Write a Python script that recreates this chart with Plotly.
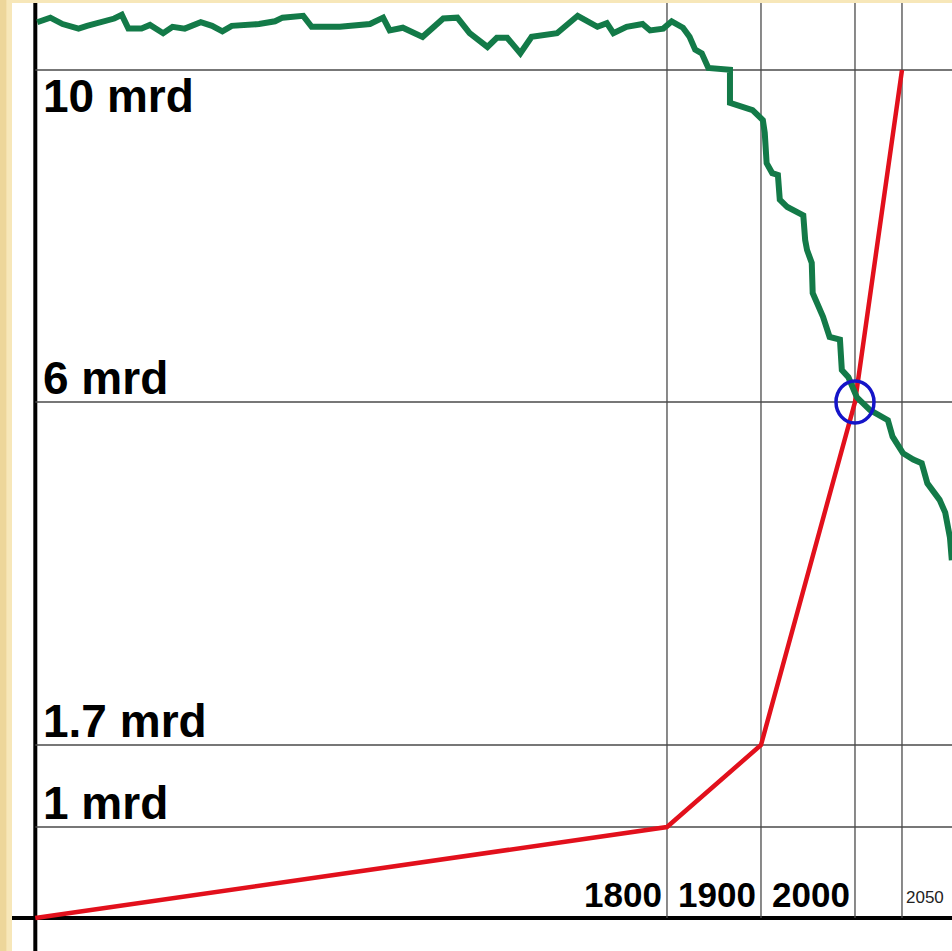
import numpy as np
import plotly.graph_objects as go

# ---------------- data ----------------
# world population (red), in milliards (mrd)
pop_years = [1128, 1800, 1900, 2000, 2050]
pop_values = [0, 1, 1.7, 6, 10]

# green series (unlabelled index, 0 = baseline, 100 = top of the chart)
green_years = [1130, 1144, 1157, 1174, 1183, 1212, 1220, 1227, 1241, 1250,
               1264, 1274, 1287, 1304, 1316, 1327, 1337, 1366, 1383, 1391,
               1413, 1422, 1452, 1463, 1479, 1484, 1498, 1505, 1519, 1540,
               1562, 1577, 1590, 1609, 1619, 1630, 1644, 1656, 1683, 1705,
               1726, 1736, 1743, 1757, 1774, 1782, 1796, 1805, 1817, 1824,
               1830, 1837, 1844, 1867, 1867, 1881, 1891, 1902, 1904, 1906,
               1912, 1918, 1920, 1928, 1945, 1947, 1949, 1954, 1955, 1966,
               1973, 1984, 1986, 1993, 2002, 2016, 2035, 2040, 2051, 2062,
               2071, 2077, 2090, 2096, 2101, 2103]
green_index = [97.9, 98.4, 97.7, 97.2, 97.5, 98.3, 98.7, 97.2, 97.2, 97.6,
               96.7, 97.4, 97.2, 97.9, 97.5, 96.9, 97.5, 97.7, 98.0, 98.4,
               98.6, 97.4, 97.4, 97.5, 97.6, 97.7, 98.4, 97.0, 97.3, 96.3,
               98.3, 98.4, 96.7, 95.2, 96.2, 96.2, 94.5, 96.3, 96.7, 98.6,
               97.4, 97.8, 96.7, 97.4, 97.7, 97.0, 97.2, 98.0, 97.3, 96.3,
               94.9, 94.5, 92.9, 92.7, 89.1, 88.6, 88.3, 87.2, 85.8, 82.5,
               81.4, 81.2, 78.5, 77.7, 76.8, 74.1, 73.0, 71.6, 68.3, 65.7,
               63.5, 63.2, 59.9, 59.1, 56.9, 55.5, 54.4, 52.6, 50.8, 50.1,
               49.7, 47.5, 45.7, 44.3, 41.6, 39.1]

pop_tick_values = [1, 1.7, 6, 10]
pop_tick_labels = ["1 mrd", "1.7 mrd", "6 mrd", "10 mrd"]
year_tick_values = [1800, 1900, 2000, 2050]
year_tick_labels = ["1800", "1900", "2000", "2050"]
highlight_year = 2000
highlight_pop = 6

# ---------------- hand-drawn (piecewise) population scale ----------------
SCALE_POP = [0, 1, 1.7, 6, 10]
SCALE_POS = [0, 91, 173, 516, 848]


def ypos(v):
    return np.interp(v, SCALE_POP, SCALE_POS)


X_RANGE = [1103.2, 2103.2]
Y_RANGE = [-33, 915]
Y2_RANGE = [Y_RANGE[0] / 9.15, Y_RANGE[1] / 9.15]
origin_year = pop_years[0]

FONT = "Liberation Sans, Arial, sans-serif"
GRID = "#4a4a4a"

fig = go.Figure()

fig.add_trace(go.Scatter(
    x=green_years, y=green_index, yaxis="y2", mode="lines",
    line=dict(color="#137a48", width=6), hoverinfo="skip", showlegend=False))

fig.add_trace(go.Scatter(
    x=pop_years, y=ypos(pop_values), mode="lines",
    line=dict(color="#e2101c", width=4.5), hoverinfo="skip", showlegend=False))

shapes = []
# left edge slide shading
shapes.append(dict(type="rect", xref="paper", yref="paper", layer="below",
                   x0=-0.0128, x1=-0.006, y0=-0.01, y1=1.01,
                   fillcolor="#edd69a", line=dict(width=0)))
# horizontal grid lines
for v in pop_tick_values:
    shapes.append(dict(type="line", xref="x", yref="y", layer="below",
                       x0=origin_year, x1=X_RANGE[1], y0=ypos(v), y1=ypos(v),
                       line=dict(color=GRID, width=1.3)))
# vertical grid lines
for yr in year_tick_values:
    shapes.append(dict(type="line", xref="x", yref="y", layer="below",
                       x0=yr, x1=yr, y0=0, y1=Y_RANGE[1],
                       line=dict(color=GRID, width=1.3)))
# axis lines
shapes.append(dict(type="line", xref="paper", yref="y", layer="below",
                   x0=0, x1=1, y0=0, y1=0, line=dict(color="black", width=4)))
shapes.append(dict(type="line", xref="x", yref="paper", layer="below",
                   x0=origin_year, x1=origin_year, y0=0, y1=1,
                   line=dict(color="black", width=4)))
# highlight circle
shapes.append(dict(type="circle", xref="x", yref="y", layer="above",
                   xsizemode="pixel", ysizemode="pixel",
                   xanchor=highlight_year, yanchor=float(ypos(highlight_pop)),
                   x0=-19, x1=19, y0=-21, y1=21,
                   line=dict(color="#1414c8", width=3.5)))

annotations = []
top_val = max(pop_tick_values)
for v, lab in zip(pop_tick_values, pop_tick_labels):
    annotations.append(dict(
        x=origin_year, y=float(ypos(v)), xref="x", yref="y", text=lab,
        showarrow=False, xanchor="left", yanchor="middle", xshift=6,
        yshift=-26 if v == top_val else 24,
        font=dict(family=FONT, size=46, color="black", weight="bold")))

last_year = max(year_tick_values)
for yr, lab in zip(year_tick_values, year_tick_labels):
    if yr == last_year:
        annotations.append(dict(
            x=yr, y=0, xref="x", yref="y", text=lab, showarrow=False,
            xanchor="left", yanchor="middle", xshift=2, yshift=21,
            font=dict(family=FONT, size=17, color="#222222")))
    else:
        annotations.append(dict(
            x=yr, y=0, xref="x", yref="y", text=lab, showarrow=False,
            xanchor="right", yanchor="middle", xshift=-3, yshift=24,
            font=dict(family=FONT, size=35, color="black", weight="bold")))

fig.update_layout(
    width=952, height=951,
    margin=dict(l=12, r=0, t=3, b=0, pad=0),
    paper_bgcolor="#f7e7b9",
    plot_bgcolor="white",
    xaxis=dict(range=X_RANGE, visible=False, fixedrange=True),
    yaxis=dict(range=Y_RANGE, visible=False, fixedrange=True),
    yaxis2=dict(range=Y2_RANGE, visible=False, overlaying="y", fixedrange=True),
    shapes=shapes,
    annotations=annotations,
    showlegend=False,
)

fig.write_html("out.html", config={"displayModeBar": False},
               post_script="document.body.style.margin='0';document.body.style.overflow='hidden';")
